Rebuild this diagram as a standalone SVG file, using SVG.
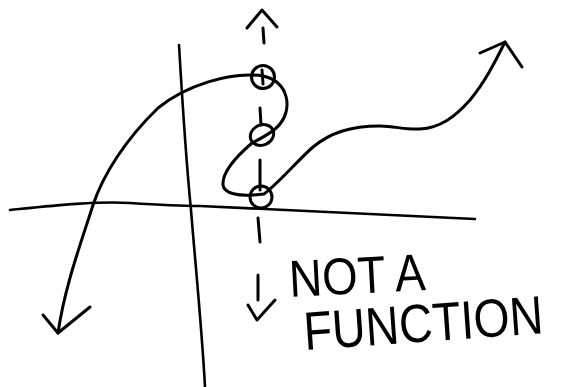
<svg xmlns="http://www.w3.org/2000/svg" width="572" height="387" viewBox="0 0 572 387">
<style>
.ax{fill:none;stroke:#000;stroke-width:2.6;stroke-linecap:round;stroke-linejoin:round}
.cv{fill:none;stroke:#000;stroke-width:3;stroke-linecap:round;stroke-linejoin:round}
.lbl{font-family:"Liberation Sans",Arial,sans-serif;fill:#000}
</style>
<rect width="572" height="387" fill="#fff"/>
<g id="axes">
<path class="ax" d="M179,45 C184,130 188,180 191,210 C195,260 202,330 205,387"/>
<path class="ax" d="M10,210 C50,206 95,201 130,203 C160,205 185,206 200,206 L475,219"/>
</g>
<g id="left-curve">
<path class="cv" d="M263,76 C230,71 185,86 158,108 C125,140 103,175 93,205 C82,240 65,285 58,333"/>
<path class="cv" d="M43,315 L58,333 L90,307"/>
</g>
<g id="right-curve">
<path class="cv" d="M263,76 C290,82 292,110 280,124 C274,132 258,140 252,143 C238,155 222,172 223,185 C224,194 240,196 253,195 L264,194 C280,182 298,160 313,147 C330,133 350,126 380,126 C395,126 405,130 420,129 C440,128 455,117 470,100 C485,82 495,62 505,42"/>
<path class="cv" d="M480,53 L505,42 L522,67"/>
</g>
<g id="vertical-test">
<path class="cv" d="M247,28 L262,10 L277,27"/>
<path class="cv" d="M263,28 L264,43"/>
<path class="cv" d="M262,70 L263,84"/>
<path class="cv" d="M260,108 L261,125"/>
<path class="cv" d="M260,160 L260,190"/>
<path class="cv" d="M258,218 L260,242"/>
<path class="cv" d="M258,275 L258,300"/>
<path class="cv" d="M248,305 L257,320 L275,300"/>
<circle class="cv" cx="263" cy="77" r="11.5"/>
<ellipse class="cv" cx="262" cy="135" rx="12" ry="10" transform="rotate(-25 262 135)"/>
<circle class="cv" cx="261" cy="197" r="11"/>
</g>
<g id="label">
<text class="lbl" x="0" y="0" font-size="52" transform="translate(290 297) rotate(-3) scale(0.88 1)">NOT A</text>
<text class="lbl" x="0" y="0" font-size="54" transform="translate(305 350) rotate(-4) scale(0.86 1)">FUNCTION</text>
</g>
</svg>
